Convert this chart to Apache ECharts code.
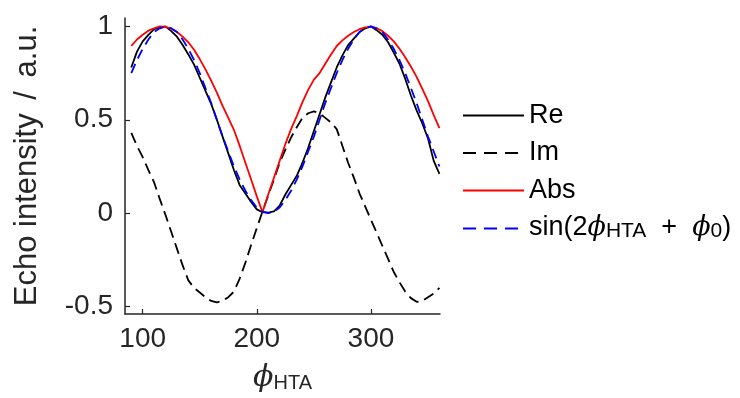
<!DOCTYPE html>
<html>
<head>
<meta charset="utf-8">
<script src="https://cdn.jsdelivr.net/npm/echarts@6/dist/echarts.min.js"></script>
<style>html,body{margin:0;padding:0;background:#fff;}#c{width:740px;height:398px;}</style>
</head>
<body>
<div id="c"></div>
<script>
const phi = [90,95,100,105,110,115,120,125,130,135,140,145,150,155,160,165,170,175,180,185,190,195,200,205,210,215,220,225,230,235,240,245,250,255,260,265,270,275,280,285,290,295,300,305,310,315,320,325,330,335,340,345,350,355,360];
const reVals = [0.78,0.865,0.92,0.955,0.985,0.995,1.0,0.975,0.945,0.90,0.85,0.795,0.725,0.655,0.585,0.50,0.41,0.32,0.23,0.15,0.105,0.06,0.02,0.005,0.003,0.01,0.04,0.10,0.15,0.20,0.27,0.35,0.44,0.53,0.62,0.70,0.78,0.845,0.90,0.935,0.97,0.99,1.0,0.98,0.955,0.915,0.86,0.80,0.72,0.63,0.55,0.48,0.40,0.28,0.21];
const imVals = [0.43,0.36,0.30,0.23,0.165,0.075,-0.01,-0.10,-0.19,-0.28,-0.36,-0.40,-0.425,-0.45,-0.47,-0.478,-0.47,-0.45,-0.42,-0.35,-0.265,-0.17,-0.08,0.01,0.095,0.18,0.27,0.34,0.405,0.46,0.51,0.535,0.545,0.535,0.51,0.485,0.45,0.36,0.27,0.19,0.105,0.035,-0.035,-0.105,-0.175,-0.245,-0.315,-0.37,-0.42,-0.455,-0.475,-0.47,-0.45,-0.43,-0.40];
const absVals = [0.895,0.93,0.955,0.977,0.99,1.0,0.997,0.988,0.97,0.945,0.915,0.875,0.825,0.77,0.71,0.645,0.575,0.51,0.445,0.36,0.27,0.18,0.09,0.005,0.10,0.19,0.28,0.37,0.45,0.52,0.595,0.66,0.715,0.75,0.80,0.85,0.895,0.925,0.95,0.97,0.985,0.995,0.997,0.99,0.975,0.95,0.92,0.88,0.835,0.785,0.73,0.665,0.60,0.525,0.455];
const fitVals = [0.75,0.82,0.88,0.93,0.97,0.99,1.0,0.99,0.97,0.93,0.88,0.82,0.75,0.67,0.59,0.50,0.41,0.33,0.25,0.18,0.12,0.07,0.03,0.008,0.0,0.008,0.03,0.07,0.12,0.18,0.25,0.33,0.41,0.50,0.59,0.67,0.75,0.82,0.88,0.93,0.97,0.99,1.0,0.99,0.97,0.93,0.88,0.82,0.75,0.67,0.59,0.50,0.41,0.33,0.25];
const seriesNames = ['Re','Im','Abs','sin(2ϕHTA + ϕ0)'];
const xTicks = [100,200,300];
const yTicks = [-0.5,0,0.5,1];
const yTickLabels = ['-0.5','0','0.5','1'];

const FONT = 'Liberation Sans';
const axisColor = '#262626';
const pair = (xs, ys) => xs.map((x,i) => [x, ys[i]]);

const chart = echarts.init(document.getElementById('c'), null, {renderer:'canvas'});
chart.setOption({
  animation: false,
  backgroundColor: '#fff',
  grid: {left:125, right:300, top:18, bottom:78, containLabel:false},
  xAxis: {
    type:'value', min:84.5, max:360.5,
    name:'{it|ϕ}{sub|HTA}', nameLocation:'middle', nameGap:45,
    nameTextStyle:{ rich:{
      it:{fontFamily:'DejaVu Serif', fontStyle:'italic', fontSize:30, color:'#262626', verticalAlign:'bottom', lineHeight:34},
      sub:{fontFamily:FONT, fontSize:20, color:'#262626', verticalAlign:'bottom', lineHeight:26}
    }},
    axisLine:{show:true, onZero:false, lineStyle:{color:axisColor, width:1.5}},
    axisTick:{show:true, inside:true, length:5, customValues:xTicks, lineStyle:{color:axisColor, width:1.2}},
    axisLabel:{customValues:xTicks, margin:11, fontFamily:FONT, fontSize:28, color:'#262626', formatter: v => String(v)},
    splitLine:{show:false}
  },
  yAxis: {
    type:'value', min:-0.54, max:1.045,
    name:'{t|Echo intensity }{s|/}{t| a.u.}', nameLocation:'middle', nameGap:82, nameRotate:90,
    nameTextStyle:{fontFamily:FONT, fontSize:31, color:'#262626', rich:{
      t:{fontFamily:FONT, fontSize:31, color:'#262626'},
      s:{fontFamily:FONT, fontSize:31, color:'#262626', padding:[0,5,0,5]}
    }},
    axisLine:{show:true, onZero:false, lineStyle:{color:axisColor, width:1.5}},
    axisTick:{show:true, inside:true, length:5, customValues:yTicks, lineStyle:{color:axisColor, width:1.2}},
    axisLabel:{customValues:yTicks, margin:12, fontFamily:FONT, fontSize:28, color:'#262626',
      formatter: v => { const i = yTicks.findIndex(t => Math.abs(t - v) < 1e-9); return i >= 0 ? yTickLabels[i] : ''; }},
    splitLine:{show:false}
  },
  legend: {
    orient:'vertical', left:457, top:97, itemWidth:61, itemHeight:14, itemGap:10.5,
    itemStyle:{opacity:0},
    lineStyle:{width:2},
    textStyle:{fontFamily:FONT, fontSize:27, color:'#000', lineHeight:26,
      rich:{
        t:{fontFamily:FONT, fontSize:27, color:'#000', verticalAlign:'bottom', lineHeight:26},
        it:{fontFamily:'DejaVu Serif', fontStyle:'italic', fontSize:27, color:'#000', verticalAlign:'bottom', lineHeight:26},
        sub:{fontFamily:FONT, fontSize:21, color:'#000', verticalAlign:'bottom', lineHeight:20}
      }},
    formatter: name => name === seriesNames[3] ? '{t|sin(2}{it|ϕ}{sub|HTA}{t|  +  }{it|ϕ}{sub|0}{t|)}' : name,
    data: [
      {name:seriesNames[0]},
      {name:seriesNames[1], lineStyle:{type:[13,8]}},
      {name:seriesNames[2]},
      {name:seriesNames[3], lineStyle:{type:[13,8]}}
    ]
  },
  series: [
    {name:seriesNames[0], type:'line', data:pair(phi, reVals), showSymbol:false, symbol:'none', lineStyle:{color:'#000', width:1.8}, itemStyle:{color:'#000'}, z:2},
    {name:seriesNames[1], type:'line', data:pair(phi, imVals), showSymbol:false, symbol:'none', lineStyle:{color:'#000', width:1.8, type:[11,6]}, itemStyle:{color:'#000'}, z:3},
    {name:seriesNames[2], type:'line', data:pair(phi, absVals), showSymbol:false, symbol:'none', lineStyle:{color:'#ff0000', width:1.8}, itemStyle:{color:'#ff0000'}, z:4},
    {name:seriesNames[3], type:'line', data:pair(phi, fitVals), showSymbol:false, symbol:'none', lineStyle:{color:'#0000ff', width:1.8, type:[10,6]}, itemStyle:{color:'#0000ff'}, z:5}
  ]
});
</script>
</body>
</html>
